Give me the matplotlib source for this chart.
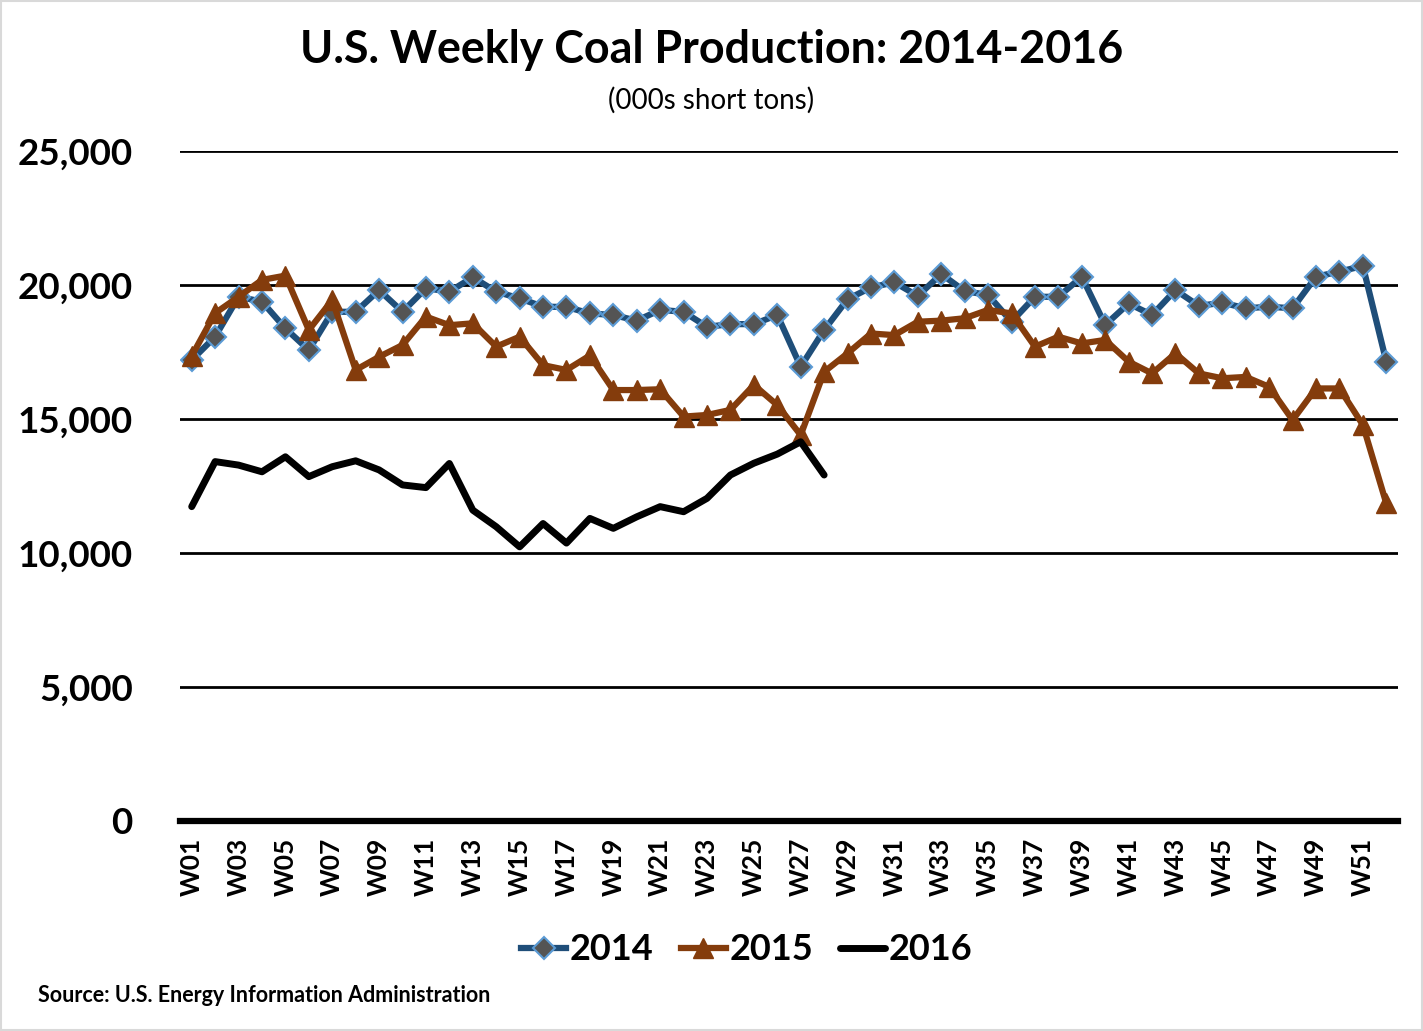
import matplotlib
matplotlib.use('Agg')
import matplotlib.pyplot as plt
from matplotlib.patches import Rectangle

# weekly production, thousand short tons
weeks = ['W%02d' % i for i in range(1, 53)]

prod_2014 = [17200, 18070, 19560, 19380, 18380, 17570, 19000, 19000, 19810, 19000,
             19880, 19750, 20290, 19750, 19500, 19190, 19180, 18940, 18880, 18670,
             19070, 19000, 18440, 18540, 18540, 18880, 16950, 18320, 19470, 19910,
             20100, 19590, 20410, 19770, 19630, 18630, 19560, 19560, 20310, 18510,
             19310, 18880, 19810, 19220, 19340, 19130, 19190, 19130, 20310, 20500,
             20710, 17140]

prod_2015 = [17350, 18950, 19560, 20190, 20350, 18320, 19440, 16830, 17320, 17760,
             18820, 18500, 18570, 17700, 18070, 17010, 16830, 17370, 16080, 16080,
             16110, 15090, 15150, 15340, 16270, 15520, 14400, 16760, 17450, 18190,
             18130, 18630, 18670, 18760, 19070, 18940, 17700, 18070, 17820, 17950,
             17140, 16700, 17450, 16700, 16520, 16570, 16200, 14960, 16140, 16140,
             14780, 11850]

prod_2016 = [11730, 13410, 13280, 13030, 13590, 12850, 13220, 13440, 13100, 12540,
             12440, 13340, 11600, 10980, 10230, 11100, 10370, 11290, 10920, 11350,
             11730, 11540, 12040, 12910, 13350, 13690, 14150, 12910]

y_ticks = [0, 5000, 10000, 15000, 20000, 25000]

FONT = 'Lato'

fig = plt.figure(figsize=(14.23, 10.31), dpi=100)
ax = fig.add_axes([180 / 1423, 1 - 821 / 1031, 1218 / 1423, 670 / 1031])

x14 = list(range(1, len(prod_2014) + 1))
x15 = list(range(1, len(prod_2015) + 1))
x16 = list(range(1, len(prod_2016) + 1))

ax.plot(x14, prod_2014, color='#1F4E79', lw=4.5, marker='D', ms=11.5,
        markerfacecolor='#545454', markeredgecolor='#5B9BD5', markeredgewidth=1.5,
        label='2014', zorder=3)
ax.plot(x15, prod_2015, color='#843C0C', lw=4.5, marker='^', ms=14,
        markerfacecolor='#843C0C', markeredgecolor='#843C0C',
        label='2015', zorder=4)
ax.plot(x16, prod_2016, color='black', lw=5, solid_capstyle='round',
        solid_joinstyle='round', label='2016', zorder=5)

ax.set_xlim(0.5, 52.5)
ax.set_ylim(0, 25000)

# gridlines
for yv in y_ticks[1:]:
    ax.axhline(yv, color='black', lw=2, zorder=1)
ax.axhline(0, color='black', lw=4.5, zorder=2, clip_on=False)

for s in ax.spines.values():
    s.set_visible(False)

ax.set_yticks(y_ticks)
ax.set_yticklabels(['{:,}'.format(v) for v in y_ticks],
                   fontsize=26.5, fontweight='bold', family=FONT)
ax.set_xticks(x14[::2])
ax.set_xticklabels(weeks[::2], rotation=90, fontsize=19,
                   fontweight='bold', family=FONT)
ax.tick_params(axis='y', length=0, pad=34)
ax.tick_params(axis='x', length=0, pad=12)

fig.text(0.5, 1 - 50 / 1031, 'U.S. Weekly Coal Production: 2014-2016',
         ha='center', va='center', fontsize=32.3, fontweight='bold', family=FONT)
fig.text(0.5, 1 - 100 / 1031, '(000s short tons)',
         ha='center', va='center', fontsize=20, family=FONT)
fig.text(38 / 1423, 1 - 995 / 1031, 'Source: U.S. Energy Information Administration',
         ha='left', va='center', fontsize=15.5, fontweight='bold', family=FONT)

handles, labels = ax.get_legend_handles_labels()
leg = fig.legend(handles, labels, loc='center', bbox_to_anchor=(747 / 1423, 1 - 950 / 1031),
                 ncol=3, frameon=False, handlelength=1.25, handletextpad=0.1,
                 columnspacing=0.75, prop={'family': FONT, 'weight': 'bold', 'size': 26})

# light border round the chart
fig.patches.append(Rectangle((0.001, 0.001), 0.998, 0.998, transform=fig.transFigure,
                             fill=False, edgecolor='#D9D9D9', lw=1.5))

fig.savefig('out.png', dpi=100)
plt.close(fig)
